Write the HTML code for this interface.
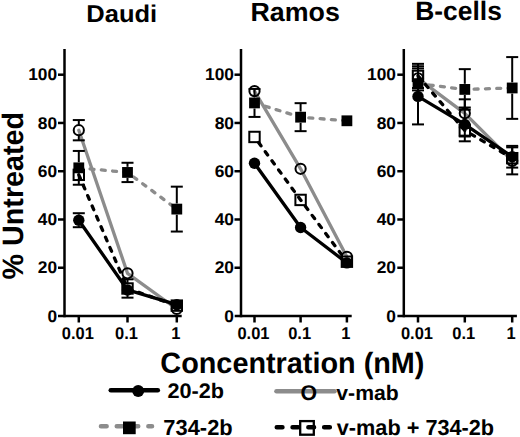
<!DOCTYPE html>
<html><head><meta charset="utf-8"><style>
html,body{margin:0;padding:0;background:#fff;}
body{width:520px;height:437px;overflow:hidden;}
svg{display:block;}
text{font-family:"Liberation Sans",sans-serif;font-weight:bold;fill:#000;}
</style></head><body>
<svg width="520" height="437" viewBox="0 0 520 437" text-rendering="geometricPrecision">
<rect width="520" height="437" fill="#fff"/>
<line x1="64.50" y1="48.90" x2="64.50" y2="317.25" stroke="#000" stroke-width="2.5" stroke-linecap="butt"/>
<line x1="58.00" y1="316.00" x2="181.70" y2="316.00" stroke="#000" stroke-width="2.5" stroke-linecap="butt"/>
<line x1="58.00" y1="267.74" x2="64.50" y2="267.74" stroke="#000" stroke-width="2.5" stroke-linecap="butt"/>
<line x1="58.00" y1="219.48" x2="64.50" y2="219.48" stroke="#000" stroke-width="2.5" stroke-linecap="butt"/>
<line x1="58.00" y1="171.22" x2="64.50" y2="171.22" stroke="#000" stroke-width="2.5" stroke-linecap="butt"/>
<line x1="58.00" y1="122.96" x2="64.50" y2="122.96" stroke="#000" stroke-width="2.5" stroke-linecap="butt"/>
<line x1="58.00" y1="74.70" x2="64.50" y2="74.70" stroke="#000" stroke-width="2.5" stroke-linecap="butt"/>
<line x1="78.80" y1="316.00" x2="78.80" y2="322.50" stroke="#000" stroke-width="2.5" stroke-linecap="butt"/>
<line x1="127.50" y1="316.00" x2="127.50" y2="322.50" stroke="#000" stroke-width="2.5" stroke-linecap="butt"/>
<line x1="176.80" y1="316.00" x2="176.80" y2="322.50" stroke="#000" stroke-width="2.5" stroke-linecap="butt"/>
<text transform="translate(57.10,321.60) scale(1.02,1)" font-family="Liberation Sans, sans-serif" font-weight="bold" font-size="17" text-anchor="end">0</text>
<text transform="translate(57.10,273.34) scale(1.02,1)" font-family="Liberation Sans, sans-serif" font-weight="bold" font-size="17" text-anchor="end">20</text>
<text transform="translate(57.10,225.08) scale(1.02,1)" font-family="Liberation Sans, sans-serif" font-weight="bold" font-size="17" text-anchor="end">40</text>
<text transform="translate(57.10,176.82) scale(1.02,1)" font-family="Liberation Sans, sans-serif" font-weight="bold" font-size="17" text-anchor="end">60</text>
<text transform="translate(57.10,128.56) scale(1.02,1)" font-family="Liberation Sans, sans-serif" font-weight="bold" font-size="17" text-anchor="end">80</text>
<text transform="translate(57.10,80.30) scale(1.02,1)" font-family="Liberation Sans, sans-serif" font-weight="bold" font-size="17" text-anchor="end">100</text>
<text transform="translate(77.80,339.0) scale(0.97,1)" font-family="Liberation Sans, sans-serif" font-weight="bold" font-size="17" text-anchor="middle">0.01</text>
<text transform="translate(126.50,339.0) scale(0.97,1)" font-family="Liberation Sans, sans-serif" font-weight="bold" font-size="17" text-anchor="middle">0.1</text>
<text transform="translate(175.80,339.0) scale(0.97,1)" font-family="Liberation Sans, sans-serif" font-weight="bold" font-size="17" text-anchor="middle">1</text>
<polyline points="78.80,167.84 127.50,172.43 176.80,209.10" fill="none" stroke="#8c8c8c" stroke-width="3.3" stroke-linecap="round" stroke-linejoin="round" stroke-dasharray="4 7.3"/>
<polyline points="78.80,130.20 127.50,273.29 176.80,309.00" fill="none" stroke="#8c8c8c" stroke-width="3.3" stroke-linecap="round" stroke-linejoin="round"/>
<polyline points="78.80,174.84 127.50,288.49 176.80,305.62" fill="none" stroke="#000" stroke-width="3.3" stroke-linecap="round" stroke-linejoin="round" stroke-dasharray="4 7.3"/>
<polyline points="78.80,220.20 127.50,289.94 176.80,304.66" fill="none" stroke="#000" stroke-width="3.3" stroke-linecap="round" stroke-linejoin="round"/>
<line x1="78.80" y1="150.95" x2="78.80" y2="162.24" stroke="#000" stroke-width="2" stroke-linecap="butt"/>
<line x1="78.80" y1="173.44" x2="78.80" y2="184.73" stroke="#000" stroke-width="2" stroke-linecap="butt"/>
<line x1="72.80" y1="150.95" x2="84.80" y2="150.95" stroke="#000" stroke-width="2" stroke-linecap="butt"/>
<line x1="72.80" y1="184.73" x2="84.80" y2="184.73" stroke="#000" stroke-width="2" stroke-linecap="butt"/>
<line x1="127.50" y1="162.77" x2="127.50" y2="166.83" stroke="#000" stroke-width="2" stroke-linecap="butt"/>
<line x1="127.50" y1="178.03" x2="127.50" y2="182.08" stroke="#000" stroke-width="2" stroke-linecap="butt"/>
<line x1="121.50" y1="162.77" x2="133.50" y2="162.77" stroke="#000" stroke-width="2" stroke-linecap="butt"/>
<line x1="121.50" y1="182.08" x2="133.50" y2="182.08" stroke="#000" stroke-width="2" stroke-linecap="butt"/>
<line x1="176.80" y1="186.66" x2="176.80" y2="203.50" stroke="#000" stroke-width="2" stroke-linecap="butt"/>
<line x1="176.80" y1="214.70" x2="176.80" y2="231.55" stroke="#000" stroke-width="2" stroke-linecap="butt"/>
<line x1="170.80" y1="186.66" x2="182.80" y2="186.66" stroke="#000" stroke-width="2" stroke-linecap="butt"/>
<line x1="170.80" y1="231.55" x2="182.80" y2="231.55" stroke="#000" stroke-width="2" stroke-linecap="butt"/>
<line x1="78.80" y1="120.06" x2="78.80" y2="124.60" stroke="#000" stroke-width="2" stroke-linecap="butt"/>
<line x1="78.80" y1="135.80" x2="78.80" y2="140.33" stroke="#000" stroke-width="2" stroke-linecap="butt"/>
<line x1="72.80" y1="120.06" x2="84.80" y2="120.06" stroke="#000" stroke-width="2" stroke-linecap="butt"/>
<line x1="72.80" y1="140.33" x2="84.80" y2="140.33" stroke="#000" stroke-width="2" stroke-linecap="butt"/>
<line x1="127.50" y1="279.32" x2="127.50" y2="282.89" stroke="#000" stroke-width="2" stroke-linecap="butt"/>
<line x1="127.50" y1="294.09" x2="127.50" y2="297.66" stroke="#000" stroke-width="2" stroke-linecap="butt"/>
<line x1="121.50" y1="279.32" x2="133.50" y2="279.32" stroke="#000" stroke-width="2" stroke-linecap="butt"/>
<line x1="121.50" y1="297.66" x2="133.50" y2="297.66" stroke="#000" stroke-width="2" stroke-linecap="butt"/>
<line x1="78.80" y1="213.21" x2="78.80" y2="214.60" stroke="#000" stroke-width="2" stroke-linecap="butt"/>
<line x1="78.80" y1="225.80" x2="78.80" y2="227.20" stroke="#000" stroke-width="2" stroke-linecap="butt"/>
<line x1="72.80" y1="213.21" x2="84.80" y2="213.21" stroke="#000" stroke-width="2" stroke-linecap="butt"/>
<line x1="72.80" y1="227.20" x2="84.80" y2="227.20" stroke="#000" stroke-width="2" stroke-linecap="butt"/>
<rect x="73.60" y="169.64" width="10.4" height="10.4" fill="none" stroke="#000" stroke-width="2"/>
<rect x="73.40" y="162.44" width="10.8" height="10.8" fill="#000"/>
<circle cx="78.80" cy="130.20" r="5.1" fill="none" stroke="#000" stroke-width="2"/>
<circle cx="78.80" cy="220.20" r="5.7" fill="#000"/>
<rect x="122.30" y="283.29" width="10.4" height="10.4" fill="none" stroke="#000" stroke-width="2"/>
<rect x="122.10" y="167.03" width="10.8" height="10.8" fill="#000"/>
<circle cx="127.50" cy="273.29" r="5.1" fill="none" stroke="#000" stroke-width="2"/>
<circle cx="127.50" cy="289.94" r="5.7" fill="#000"/>
<rect x="171.60" y="300.42" width="10.4" height="10.4" fill="none" stroke="#000" stroke-width="2"/>
<rect x="171.40" y="203.70" width="10.8" height="10.8" fill="#000"/>
<circle cx="176.80" cy="309.00" r="5.1" fill="none" stroke="#000" stroke-width="2"/>
<circle cx="176.80" cy="304.66" r="5.7" fill="#000"/>
<line x1="241.00" y1="48.90" x2="241.00" y2="317.25" stroke="#000" stroke-width="2.5" stroke-linecap="butt"/>
<line x1="234.70" y1="316.00" x2="351.70" y2="316.00" stroke="#000" stroke-width="2.5" stroke-linecap="butt"/>
<line x1="234.50" y1="267.74" x2="241.00" y2="267.74" stroke="#000" stroke-width="2.5" stroke-linecap="butt"/>
<line x1="234.50" y1="219.48" x2="241.00" y2="219.48" stroke="#000" stroke-width="2.5" stroke-linecap="butt"/>
<line x1="234.50" y1="171.22" x2="241.00" y2="171.22" stroke="#000" stroke-width="2.5" stroke-linecap="butt"/>
<line x1="234.50" y1="122.96" x2="241.00" y2="122.96" stroke="#000" stroke-width="2.5" stroke-linecap="butt"/>
<line x1="234.50" y1="74.70" x2="241.00" y2="74.70" stroke="#000" stroke-width="2.5" stroke-linecap="butt"/>
<line x1="254.50" y1="316.00" x2="254.50" y2="322.50" stroke="#000" stroke-width="2.5" stroke-linecap="butt"/>
<line x1="300.60" y1="316.00" x2="300.60" y2="322.50" stroke="#000" stroke-width="2.5" stroke-linecap="butt"/>
<line x1="346.90" y1="316.00" x2="346.90" y2="322.50" stroke="#000" stroke-width="2.5" stroke-linecap="butt"/>
<text transform="translate(234.00,321.60) scale(1.02,1)" font-family="Liberation Sans, sans-serif" font-weight="bold" font-size="17" text-anchor="end">0</text>
<text transform="translate(234.00,273.34) scale(1.02,1)" font-family="Liberation Sans, sans-serif" font-weight="bold" font-size="17" text-anchor="end">20</text>
<text transform="translate(234.00,225.08) scale(1.02,1)" font-family="Liberation Sans, sans-serif" font-weight="bold" font-size="17" text-anchor="end">40</text>
<text transform="translate(234.00,176.82) scale(1.02,1)" font-family="Liberation Sans, sans-serif" font-weight="bold" font-size="17" text-anchor="end">60</text>
<text transform="translate(234.00,128.56) scale(1.02,1)" font-family="Liberation Sans, sans-serif" font-weight="bold" font-size="17" text-anchor="end">80</text>
<text transform="translate(234.00,80.30) scale(1.02,1)" font-family="Liberation Sans, sans-serif" font-weight="bold" font-size="17" text-anchor="end">100</text>
<text transform="translate(253.50,339.0) scale(0.97,1)" font-family="Liberation Sans, sans-serif" font-weight="bold" font-size="17" text-anchor="middle">0.01</text>
<text transform="translate(299.60,339.0) scale(0.97,1)" font-family="Liberation Sans, sans-serif" font-weight="bold" font-size="17" text-anchor="middle">0.1</text>
<text transform="translate(345.90,339.0) scale(0.97,1)" font-family="Liberation Sans, sans-serif" font-weight="bold" font-size="17" text-anchor="middle">1</text>
<polyline points="254.50,102.93 300.60,117.17 346.90,120.79" fill="none" stroke="#8c8c8c" stroke-width="3.3" stroke-linecap="round" stroke-linejoin="round" stroke-dasharray="4 7.3"/>
<polyline points="254.50,91.11 300.60,168.81 346.90,256.88" fill="none" stroke="#8c8c8c" stroke-width="3.3" stroke-linecap="round" stroke-linejoin="round"/>
<polyline points="254.50,136.96 300.60,199.93 346.90,261.71" fill="none" stroke="#000" stroke-width="3.3" stroke-linecap="round" stroke-linejoin="round" stroke-dasharray="4 7.3" stroke-dashoffset="4.35"/>
<polyline points="254.50,163.26 300.60,227.44 346.90,262.91" fill="none" stroke="#000" stroke-width="3.3" stroke-linecap="round" stroke-linejoin="round"/>
<line x1="254.50" y1="88.94" x2="254.50" y2="97.33" stroke="#000" stroke-width="2" stroke-linecap="butt"/>
<line x1="254.50" y1="108.53" x2="254.50" y2="116.93" stroke="#000" stroke-width="2" stroke-linecap="butt"/>
<line x1="248.50" y1="88.94" x2="260.50" y2="88.94" stroke="#000" stroke-width="2" stroke-linecap="butt"/>
<line x1="248.50" y1="116.93" x2="260.50" y2="116.93" stroke="#000" stroke-width="2" stroke-linecap="butt"/>
<line x1="300.60" y1="103.17" x2="300.60" y2="111.57" stroke="#000" stroke-width="2" stroke-linecap="butt"/>
<line x1="300.60" y1="122.77" x2="300.60" y2="131.16" stroke="#000" stroke-width="2" stroke-linecap="butt"/>
<line x1="294.60" y1="103.17" x2="306.60" y2="103.17" stroke="#000" stroke-width="2" stroke-linecap="butt"/>
<line x1="294.60" y1="131.16" x2="306.60" y2="131.16" stroke="#000" stroke-width="2" stroke-linecap="butt"/>
<rect x="249.30" y="131.76" width="10.4" height="10.4" fill="none" stroke="#000" stroke-width="2"/>
<rect x="249.10" y="97.53" width="10.8" height="10.8" fill="#000"/>
<circle cx="254.50" cy="91.11" r="5.1" fill="none" stroke="#000" stroke-width="2"/>
<circle cx="254.50" cy="163.26" r="5.7" fill="#000"/>
<rect x="295.40" y="194.73" width="10.4" height="10.4" fill="none" stroke="#000" stroke-width="2"/>
<rect x="295.20" y="111.77" width="10.8" height="10.8" fill="#000"/>
<circle cx="300.60" cy="168.81" r="5.1" fill="none" stroke="#000" stroke-width="2"/>
<circle cx="300.60" cy="227.44" r="5.7" fill="#000"/>
<rect x="341.70" y="256.51" width="10.4" height="10.4" fill="none" stroke="#000" stroke-width="2"/>
<rect x="341.50" y="115.39" width="10.8" height="10.8" fill="#000"/>
<circle cx="346.90" cy="256.88" r="5.1" fill="none" stroke="#000" stroke-width="2"/>
<circle cx="346.90" cy="262.91" r="5.7" fill="#000"/>
<line x1="403.80" y1="48.90" x2="403.80" y2="317.25" stroke="#000" stroke-width="2.5" stroke-linecap="butt"/>
<line x1="397.40" y1="316.00" x2="516.90" y2="316.00" stroke="#000" stroke-width="2.5" stroke-linecap="butt"/>
<line x1="397.30" y1="267.74" x2="403.80" y2="267.74" stroke="#000" stroke-width="2.5" stroke-linecap="butt"/>
<line x1="397.30" y1="219.48" x2="403.80" y2="219.48" stroke="#000" stroke-width="2.5" stroke-linecap="butt"/>
<line x1="397.30" y1="171.22" x2="403.80" y2="171.22" stroke="#000" stroke-width="2.5" stroke-linecap="butt"/>
<line x1="397.30" y1="122.96" x2="403.80" y2="122.96" stroke="#000" stroke-width="2.5" stroke-linecap="butt"/>
<line x1="397.30" y1="74.70" x2="403.80" y2="74.70" stroke="#000" stroke-width="2.5" stroke-linecap="butt"/>
<line x1="418.00" y1="316.00" x2="418.00" y2="322.50" stroke="#000" stroke-width="2.5" stroke-linecap="butt"/>
<line x1="464.80" y1="316.00" x2="464.80" y2="322.50" stroke="#000" stroke-width="2.5" stroke-linecap="butt"/>
<line x1="512.20" y1="316.00" x2="512.20" y2="322.50" stroke="#000" stroke-width="2.5" stroke-linecap="butt"/>
<text transform="translate(396.00,321.60) scale(1.02,1)" font-family="Liberation Sans, sans-serif" font-weight="bold" font-size="17" text-anchor="end">0</text>
<text transform="translate(396.00,273.34) scale(1.02,1)" font-family="Liberation Sans, sans-serif" font-weight="bold" font-size="17" text-anchor="end">20</text>
<text transform="translate(396.00,225.08) scale(1.02,1)" font-family="Liberation Sans, sans-serif" font-weight="bold" font-size="17" text-anchor="end">40</text>
<text transform="translate(396.00,176.82) scale(1.02,1)" font-family="Liberation Sans, sans-serif" font-weight="bold" font-size="17" text-anchor="end">60</text>
<text transform="translate(396.00,128.56) scale(1.02,1)" font-family="Liberation Sans, sans-serif" font-weight="bold" font-size="17" text-anchor="end">80</text>
<text transform="translate(396.00,80.30) scale(1.02,1)" font-family="Liberation Sans, sans-serif" font-weight="bold" font-size="17" text-anchor="end">100</text>
<text transform="translate(417.00,339.0) scale(0.97,1)" font-family="Liberation Sans, sans-serif" font-weight="bold" font-size="17" text-anchor="middle">0.01</text>
<text transform="translate(463.80,339.0) scale(0.97,1)" font-family="Liberation Sans, sans-serif" font-weight="bold" font-size="17" text-anchor="middle">0.1</text>
<text transform="translate(511.20,339.0) scale(0.97,1)" font-family="Liberation Sans, sans-serif" font-weight="bold" font-size="17" text-anchor="middle">1</text>
<polyline points="418.00,83.63 464.80,89.42 512.20,87.97" fill="none" stroke="#8c8c8c" stroke-width="3.3" stroke-linecap="round" stroke-linejoin="round" stroke-dasharray="4 7.3"/>
<polyline points="418.00,78.32 464.80,113.31 512.20,160.84" fill="none" stroke="#8c8c8c" stroke-width="3.3" stroke-linecap="round" stroke-linejoin="round"/>
<polyline points="418.00,75.91 464.80,130.44 512.20,158.19" fill="none" stroke="#000" stroke-width="3.3" stroke-linecap="round" stroke-linejoin="round" stroke-dasharray="4 7.3"/>
<polyline points="418.00,96.42 464.80,124.41 512.20,156.74" fill="none" stroke="#000" stroke-width="3.3" stroke-linecap="round" stroke-linejoin="round"/>
<line x1="464.80" y1="69.15" x2="464.80" y2="83.82" stroke="#000" stroke-width="2" stroke-linecap="butt"/>
<line x1="464.80" y1="95.02" x2="464.80" y2="109.69" stroke="#000" stroke-width="2" stroke-linecap="butt"/>
<line x1="458.80" y1="69.15" x2="470.80" y2="69.15" stroke="#000" stroke-width="2" stroke-linecap="butt"/>
<line x1="458.80" y1="109.69" x2="470.80" y2="109.69" stroke="#000" stroke-width="2" stroke-linecap="butt"/>
<line x1="512.20" y1="57.09" x2="512.20" y2="82.37" stroke="#000" stroke-width="2" stroke-linecap="butt"/>
<line x1="512.20" y1="93.57" x2="512.20" y2="118.86" stroke="#000" stroke-width="2" stroke-linecap="butt"/>
<line x1="506.20" y1="57.09" x2="518.20" y2="57.09" stroke="#000" stroke-width="2" stroke-linecap="butt"/>
<line x1="506.20" y1="118.86" x2="518.20" y2="118.86" stroke="#000" stroke-width="2" stroke-linecap="butt"/>
<line x1="418.00" y1="66.25" x2="418.00" y2="72.72" stroke="#000" stroke-width="2" stroke-linecap="butt"/>
<line x1="418.00" y1="83.92" x2="418.00" y2="90.38" stroke="#000" stroke-width="2" stroke-linecap="butt"/>
<line x1="412.00" y1="66.25" x2="424.00" y2="66.25" stroke="#000" stroke-width="2" stroke-linecap="butt"/>
<line x1="412.00" y1="90.38" x2="424.00" y2="90.38" stroke="#000" stroke-width="2" stroke-linecap="butt"/>
<line x1="464.80" y1="99.31" x2="464.80" y2="107.71" stroke="#000" stroke-width="2" stroke-linecap="butt"/>
<line x1="464.80" y1="118.91" x2="464.80" y2="127.30" stroke="#000" stroke-width="2" stroke-linecap="butt"/>
<line x1="458.80" y1="99.31" x2="470.80" y2="99.31" stroke="#000" stroke-width="2" stroke-linecap="butt"/>
<line x1="458.80" y1="127.30" x2="470.80" y2="127.30" stroke="#000" stroke-width="2" stroke-linecap="butt"/>
<line x1="512.20" y1="147.33" x2="512.20" y2="155.24" stroke="#000" stroke-width="2" stroke-linecap="butt"/>
<line x1="512.20" y1="166.44" x2="512.20" y2="174.36" stroke="#000" stroke-width="2" stroke-linecap="butt"/>
<line x1="506.20" y1="147.33" x2="518.20" y2="147.33" stroke="#000" stroke-width="2" stroke-linecap="butt"/>
<line x1="506.20" y1="174.36" x2="518.20" y2="174.36" stroke="#000" stroke-width="2" stroke-linecap="butt"/>
<line x1="418.00" y1="63.84" x2="418.00" y2="70.31" stroke="#000" stroke-width="2" stroke-linecap="butt"/>
<line x1="418.00" y1="81.51" x2="418.00" y2="87.97" stroke="#000" stroke-width="2" stroke-linecap="butt"/>
<line x1="412.00" y1="63.84" x2="424.00" y2="63.84" stroke="#000" stroke-width="2" stroke-linecap="butt"/>
<line x1="412.00" y1="87.97" x2="424.00" y2="87.97" stroke="#000" stroke-width="2" stroke-linecap="butt"/>
<line x1="464.80" y1="124.41" x2="464.80" y2="124.84" stroke="#000" stroke-width="2" stroke-linecap="butt"/>
<line x1="464.80" y1="136.04" x2="464.80" y2="136.47" stroke="#000" stroke-width="2" stroke-linecap="butt"/>
<line x1="458.80" y1="124.41" x2="470.80" y2="124.41" stroke="#000" stroke-width="2" stroke-linecap="butt"/>
<line x1="458.80" y1="136.47" x2="470.80" y2="136.47" stroke="#000" stroke-width="2" stroke-linecap="butt"/>
<line x1="418.00" y1="68.43" x2="418.00" y2="90.82" stroke="#000" stroke-width="2" stroke-linecap="butt"/>
<line x1="418.00" y1="102.02" x2="418.00" y2="124.41" stroke="#000" stroke-width="2" stroke-linecap="butt"/>
<line x1="412.00" y1="68.43" x2="424.00" y2="68.43" stroke="#000" stroke-width="2" stroke-linecap="butt"/>
<line x1="412.00" y1="124.41" x2="424.00" y2="124.41" stroke="#000" stroke-width="2" stroke-linecap="butt"/>
<line x1="464.80" y1="107.52" x2="464.80" y2="118.81" stroke="#000" stroke-width="2" stroke-linecap="butt"/>
<line x1="464.80" y1="130.01" x2="464.80" y2="141.30" stroke="#000" stroke-width="2" stroke-linecap="butt"/>
<line x1="458.80" y1="107.52" x2="470.80" y2="107.52" stroke="#000" stroke-width="2" stroke-linecap="butt"/>
<line x1="458.80" y1="141.30" x2="470.80" y2="141.30" stroke="#000" stroke-width="2" stroke-linecap="butt"/>
<line x1="512.20" y1="145.88" x2="512.20" y2="151.14" stroke="#000" stroke-width="2" stroke-linecap="butt"/>
<line x1="512.20" y1="162.34" x2="512.20" y2="167.60" stroke="#000" stroke-width="2" stroke-linecap="butt"/>
<line x1="506.20" y1="145.88" x2="518.20" y2="145.88" stroke="#000" stroke-width="2" stroke-linecap="butt"/>
<line x1="506.20" y1="167.60" x2="518.20" y2="167.60" stroke="#000" stroke-width="2" stroke-linecap="butt"/>
<rect x="412.80" y="70.71" width="10.4" height="10.4" fill="none" stroke="#000" stroke-width="2"/>
<rect x="412.60" y="78.23" width="10.8" height="10.8" fill="#000"/>
<circle cx="418.00" cy="78.32" r="5.1" fill="none" stroke="#000" stroke-width="2"/>
<circle cx="418.00" cy="96.42" r="5.7" fill="#000"/>
<rect x="459.60" y="125.24" width="10.4" height="10.4" fill="none" stroke="#000" stroke-width="2"/>
<rect x="459.40" y="84.02" width="10.8" height="10.8" fill="#000"/>
<circle cx="464.80" cy="113.31" r="5.1" fill="none" stroke="#000" stroke-width="2"/>
<circle cx="464.80" cy="124.41" r="5.7" fill="#000"/>
<rect x="507.00" y="152.99" width="10.4" height="10.4" fill="none" stroke="#000" stroke-width="2"/>
<rect x="506.80" y="82.57" width="10.8" height="10.8" fill="#000"/>
<circle cx="512.20" cy="160.84" r="5.1" fill="none" stroke="#000" stroke-width="2"/>
<circle cx="512.20" cy="156.74" r="5.7" fill="#000"/>
<text transform="translate(22.8,195.7) rotate(-90) scale(0.974,1)" x="0" y="0" font-family="Liberation Sans, sans-serif" font-weight="bold" font-size="29.5" text-anchor="middle">% Untreated</text>
<text transform="translate(121.77,22.00) scale(1.0490,1)" font-family="Liberation Sans, sans-serif" font-weight="bold" font-size="24.30" text-anchor="middle">Daudi</text>
<text transform="translate(295.16,21.00) scale(1.0196,1)" font-family="Liberation Sans, sans-serif" font-weight="bold" font-size="26.30" text-anchor="middle">Ramos</text>
<text transform="translate(458.54,20.00) scale(0.9891,1)" font-family="Liberation Sans, sans-serif" font-weight="bold" font-size="26.70" text-anchor="middle">B-cells</text>
<text transform="translate(292.39,373.00) scale(0.9766,1)" font-family="Liberation Sans, sans-serif" font-weight="bold" font-size="29.50" text-anchor="middle">Concentration (nM)</text>
<text transform="translate(195.71,398.00) scale(1.0323,1)" font-family="Liberation Sans, sans-serif" font-weight="bold" font-size="21.00" text-anchor="middle">20-2b</text>
<text transform="translate(367.51,400.00) scale(1.0083,1)" font-family="Liberation Sans, sans-serif" font-weight="bold" font-size="21.00" text-anchor="middle">v-mab</text>
<text transform="translate(198.01,435.00) scale(1.0041,1)" font-family="Liberation Sans, sans-serif" font-weight="bold" font-size="21.80" text-anchor="middle">734-2b</text>
<text transform="translate(415.44,435.00) scale(0.9951,1)" font-family="Liberation Sans, sans-serif" font-weight="bold" font-size="21.80" text-anchor="middle">v-mab + 734-2b</text>
<line x1="110.80" y1="390.20" x2="157.80" y2="390.20" stroke="#000" stroke-width="4.6" stroke-linecap="round"/>
<circle cx="138.2" cy="391.1" r="6" fill="#000"/>
<line x1="276.50" y1="391.20" x2="334.50" y2="391.20" stroke="#8c8c8c" stroke-width="4.6" stroke-linecap="round"/>
<text x="308.7" y="400.1" font-family="Liberation Sans, sans-serif" font-weight="bold" font-size="21.3" text-anchor="middle">O</text>
<line x1="101" y1="426.2" x2="152" y2="426.2" stroke="#8c8c8c" stroke-width="4.6" stroke-linecap="round" stroke-dasharray="5.6 10.2"/>
<rect x="123" y="421.5" width="12.7" height="12.7" fill="#000"/>
<line x1="276.8" y1="427.3" x2="330.5" y2="427.3" stroke="#000" stroke-width="4.6" stroke-linecap="round" stroke-dasharray="5.6 10.2"/>
<rect x="300.2" y="421.1" width="13.6" height="13.6" fill="none" stroke="#000" stroke-width="2.3"/>
</svg>
</body></html>
